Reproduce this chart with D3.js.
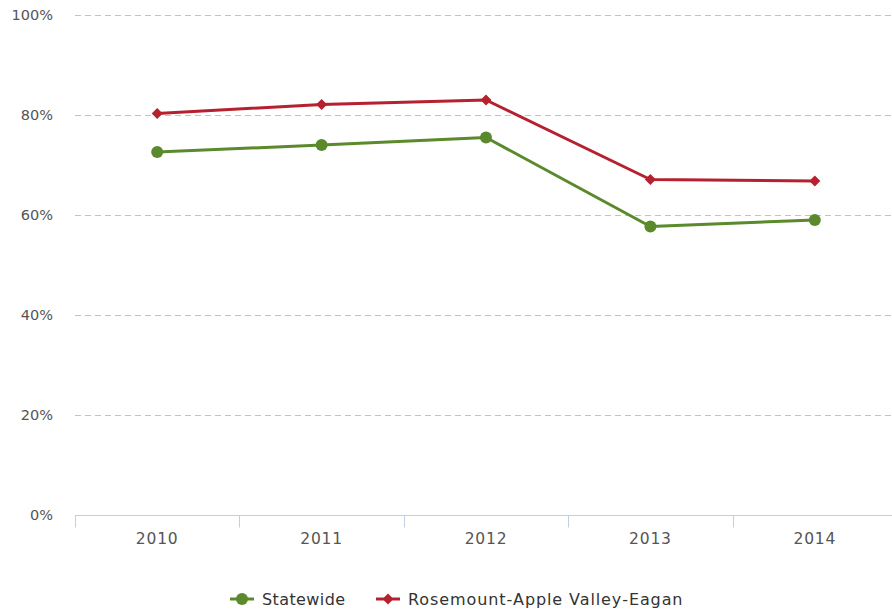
<!DOCTYPE html>
<html><head><meta charset="utf-8">
<script src="https://cdn.jsdelivr.net/npm/d3@7"></script>
<style>body{margin:0;background:#fff}svg{display:block}text{font-family:"DejaVu Sans",sans-serif}</style>
</head><body><svg id="c" width="892" height="613"></svg>
<script>
const years = ["2010","2011","2012","2013","2014"];
const statewide = [72.6, 74.0, 75.5, 57.7, 59.0];
const rave = [80.3, 82.1, 83.0, 67.1, 66.8];
const yTicks = [0,20,40,60,80,100];
const seriesNames = ["Statewide","Rosemount\u2011Apple Valley\u2011Eagan"];
const colors = ["#5a8a2b","#b5212e"];

const svg = d3.select("#c");
const x = d3.scaleBand().domain(years).range([75, 897]);
const y = d3.scaleLinear().domain([0,100]).range([515, 15]);

// grid
svg.append("g").selectAll("line").data(yTicks.filter(d=>d>0)).join("line")
  .attr("x1",75).attr("x2",892).attr("y1",d=>y(d)+0.5).attr("y2",d=>y(d)+0.5)
  .attr("stroke","#c2c2c2").attr("stroke-width",1).attr("stroke-dasharray","6,4");

// y labels
svg.append("g").selectAll("text").data(yTicks).join("text")
  .attr("x",53).attr("y",d=>y(d)).attr("dy","0.36em").attr("text-anchor","end")
  .attr("fill","#555").style("font-size","14.5px").text(d=>d+"%");

// x axis
const xa = svg.append("g").attr("transform","translate(0,515.5)");
xa.append("line").attr("x1",75).attr("x2",892).attr("stroke","#c0d0e0").attr("stroke-width",1);
const bounds = years.map(d=>x(d));
xa.selectAll("line.t").data(bounds).join("line").attr("class","t")
  .attr("x1",d=>Math.round(d)+0.5).attr("x2",d=>Math.round(d)+0.5).attr("y1",0).attr("y2",12)
  .attr("stroke","#c0d0e0");
xa.selectAll("text").data(years).join("text")
  .attr("x",d=>x(d)+x.bandwidth()/2).attr("y",23).attr("dy","0.36em").attr("text-anchor","middle")
  .attr("fill","#555").style("font-size","15.5px").style("letter-spacing","0.8px").text(d=>d);

const line = d3.line().x((d,i)=>x(years[i])+x.bandwidth()/2).y(d=>y(d));
const diamond = (cx,cy,r)=>`M${cx},${cy-r}L${cx+r},${cy}L${cx},${cy+r}L${cx-r},${cy}Z`;

[statewide, rave].forEach((s,k)=>{
  svg.append("path").datum(s).attr("d",line).attr("fill","none")
    .attr("stroke",colors[k]).attr("stroke-width",3).attr("stroke-linejoin","round");
  const g = svg.append("g");
  if(k===0){
    g.selectAll("circle").data(s).join("circle")
      .attr("cx",(d,i)=>x(years[i])+x.bandwidth()/2).attr("cy",d=>y(d)).attr("r",6).attr("fill",colors[k]);
  } else {
    g.selectAll("path").data(s).join("path")
      .attr("d",(d,i)=>diamond(x(years[i])+x.bandwidth()/2,y(d),5.5)).attr("fill",colors[k]);
  }
});

// legend
const lg = svg.append("g");
const lx = [230, 376];
seriesNames.forEach((n,k)=>{
  const g = lg.append("g").attr("transform",`translate(${lx[k]},599)`);
  g.append("line").attr("x1",0).attr("x2",24).attr("stroke",colors[k]).attr("stroke-width",3);
  if(k===0) g.append("circle").attr("cx",12).attr("r",6).attr("fill",colors[k]);
  else g.append("path").attr("d",diamond(12,0,5.5)).attr("fill",colors[k]);
  g.append("text").attr("x",32).attr("dy","0.36em").attr("fill","#333").style("font-size","16px")
    .style("letter-spacing", k===0 ? "0.4px" : "0.9px").text(n);
});
</script></body></html>
